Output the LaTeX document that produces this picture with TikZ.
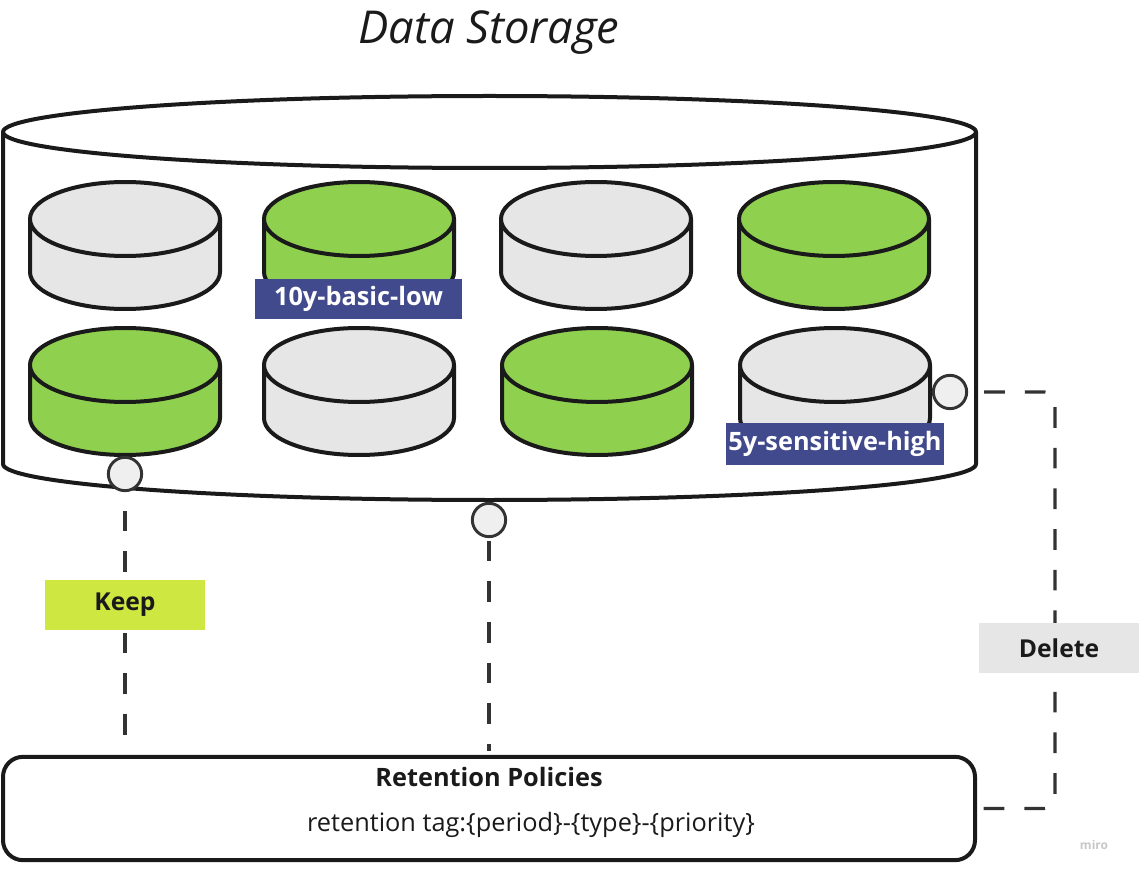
\documentclass[tikz,border=0pt]{standalone}
\usepackage{fontspec}
\setmainfont{Open Sans}
\usetikzlibrary{positioning}

\definecolor{ink}{HTML}{1A1A1A}
\definecolor{wire}{HTML}{333333}
\definecolor{dbgreen}{HTML}{8FD14F}
\definecolor{dbgray}{HTML}{E6E6E6}
\definecolor{portgray}{HTML}{EFEFEF}
\definecolor{tagblue}{HTML}{414A8C}
\definecolor{keeplime}{HTML}{CEE741}

\begin{document}
\begin{tikzpicture}[
  x=0.75pt, y=-0.75pt,
  every node/.style={font=\fontsize{19}{22}\selectfont, text=ink},
  wall/.style={line width=3pt, draw=ink, line join=round},
  port/.style={circle, draw=wire, fill=portgray, line width=2.2pt, minimum size=25pt, inner sep=0pt},
  link/.style={draw=wire, line width=2.3pt, dash pattern=on 15.5pt off 15pt},
  tag/.style={fill=tagblue, text=white, font=\bfseries\fontsize{19}{22}\selectfont, minimum height=30pt, inner sep=2pt},
  action/.style={font=\bfseries\fontsize{18.5}{22}\selectfont, minimum width=120pt, minimum height=37.5pt, inner sep=0pt}
]
  \useasboundingbox (0,0) rectangle (1139,877);

  \node[font=\itshape\fontsize{34}{38}\selectfont] (title) at (489,33) {Data Storage};

  % outer storage drum
  \filldraw[wall, fill=white] (3,132) -- (3,464)
    arc[start angle=180, end angle=0, x radius=486.5, y radius=36] -- (976,132);
  \draw[wall, fill=white] (489.5,132) ellipse [x radius=486.5, y radius=36];

  % buckets
  \foreach \cx/\ty/\col in {125/219/dbgray, 359/219/dbgreen, 596/219/dbgray, 834/219/dbgreen,
                             125/365/dbgreen, 359/365/dbgray, 597/365/dbgreen, 835/365/dbgray} {
    \filldraw[wall, fill=\col] (\cx-95,\ty) -- (\cx-95,\ty+53)
      arc[start angle=180, end angle=0, x radius=95, y radius=37] -- (\cx+95,\ty);
    \draw[wall, fill=\col] (\cx,\ty) ellipse [x radius=95, y radius=37];
  }

  \node[tag, minimum width=155pt] (tlow) at (358.5,299) {10y-basic-low};
  \node[tag, minimum width=163.5pt, minimum height=31.5pt] (thigh) at (835,444) {5y-sensitive-high};

  % connection ports
  \node[port] (pkeep) at (125,474) {};
  \node[port] (pmid)  at (489,520) {};
  \node[port] (pdel)  at (950,392) {};

  % policy box
  \node[draw=ink, line width=3pt, rounded corners=15pt, minimum width=729pt, minimum height=77.5pt] (policy) at (489,808.5) {};
  \node[font=\bfseries\fontsize{19}{22}\selectfont] (ptitle) at (489,777) {Retention Policies};
  \node (pformat) at (531,825) {retention tag:\{period\}-\{type\}-\{priority\}};

  \coordinate (bend) at (1055,392);

  \draw[link, shorten <=14pt, shorten >=12pt] (pkeep.south) -- (pkeep.south |- policy.north);
  \draw[link, shorten <=2pt, shorten >=3pt] (pmid.south) -- (pmid.south |- policy.north);
  \draw[link, rounded corners=8pt, shorten <=12pt, shorten >=4pt] (pdel.east) -- (bend) -- (bend |- policy.east) -- (policy.east);

  \node[action, fill=keeplime] (keep) at (125,605) {Keep};
  \node[action, fill=dbgray] (delete) at (1059,648) {Delete};

  \node[font=\bfseries\fontsize{9}{10}\selectfont, text=black!22] (mark) at (1094,845) {miro};
\end{tikzpicture}
\end{document}
